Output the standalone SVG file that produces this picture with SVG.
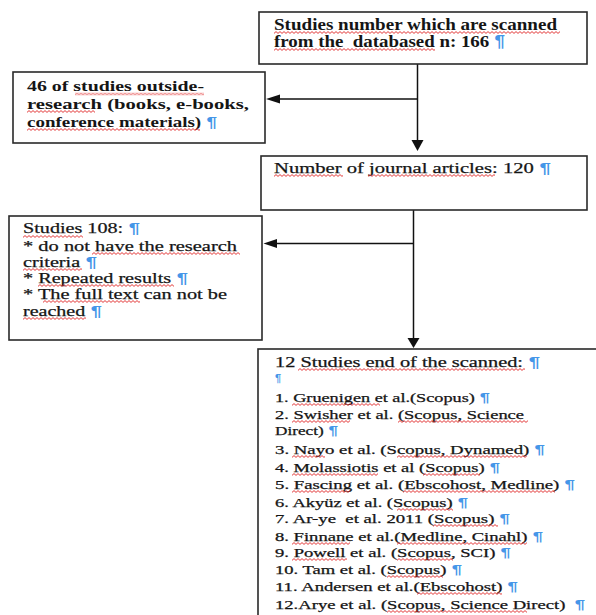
<svg xmlns="http://www.w3.org/2000/svg" width="596" height="615" viewBox="0 0 596 615">
<style>
.box{fill:#fff;stroke:#2a2a2a;stroke-width:1.6}
.ln{stroke:#111;stroke-width:1.5;fill:none}
.hd{fill:#111}
.t{fill:#151515;stroke:#151515;stroke-width:0.25}
.b{font-weight:bold;stroke-width:0}
.p{fill:#4596e8;stroke:none;font-family:'Liberation Sans',Arial,sans-serif;font-weight:bold}
.sq{fill:url(#sq)}
</style>
<defs>
<pattern id="sq" width="4" height="3" patternUnits="userSpaceOnUse"><path d="M0,2.4 L2,0.6 L4,2.4" fill="none" stroke="#e02525" stroke-width="0.9"/></pattern>
</defs>
<rect width="596" height="615" fill="#fff"/>

<g id="connectors">
<line class="ln" x1="417.5" y1="64" x2="417.5" y2="141"/>
<polygon class="hd" points="411.5,140 423.5,140 417.5,151"/>
<line class="ln" x1="417.5" y1="99" x2="278" y2="99"/>
<polygon class="hd" points="266,99 280,94.5 280,103.5"/>
<line class="ln" x1="413.5" y1="210" x2="413.5" y2="339"/>
<polygon class="hd" points="407.5,338 419.5,338 413.5,348"/>
<line class="ln" x1="413.5" y1="243.5" x2="275" y2="243.5"/>
<polygon class="hd" points="263.5,243.5 277,239 277,248"/>
</g>

<g font-family="Liberation Serif, Times New Roman, serif">
<g id="node-scanned">
<rect class="box" x="259" y="12" width="328" height="52"/>
<text class="t b" font-size="16" x="274" y="30" textLength="283" lengthAdjust="spacingAndGlyphs">Studies number which are scanned</text>
<text class="t b" font-size="16" x="274" y="47" textLength="231" lengthAdjust="spacingAndGlyphs">from the &#160;databased n: 166<tspan class="p"> ¶</tspan></text>
</g>

<g id="node-outside">
<rect class="box" x="13" y="72" width="252" height="71"/>
<text class="t b" font-size="15" x="27" y="91" textLength="177" lengthAdjust="spacingAndGlyphs">46 of studies outside-</text>
<text class="t b" font-size="15" x="27" y="109" textLength="222" lengthAdjust="spacingAndGlyphs">research (books, e-books,</text>
<text class="t b" font-size="15" x="27" y="127" textLength="190" lengthAdjust="spacingAndGlyphs">conference materials)<tspan class="p"> ¶</tspan></text>
</g>

<g id="node-journal">
<rect class="box" x="261" y="156" width="326" height="54"/>
<text class="t" font-size="15.5" x="274" y="173" textLength="277" lengthAdjust="spacingAndGlyphs">Number of journal articles: 120<tspan class="p"> ¶</tspan></text>
</g>

<g id="node-excluded">
<rect class="box" x="9" y="216" width="253" height="124"/>
<text class="t" font-size="15" x="23" y="233" textLength="117" lengthAdjust="spacingAndGlyphs">Studies 108:<tspan class="p"> ¶</tspan></text>
<text class="t" font-size="15" x="23" y="251" textLength="214" lengthAdjust="spacingAndGlyphs">* do not have the research</text>
<text class="t" font-size="15" x="23" y="267" textLength="74" lengthAdjust="spacingAndGlyphs">criteria<tspan class="p"> ¶</tspan></text>
<text class="t" font-size="15" x="23" y="283" textLength="165" lengthAdjust="spacingAndGlyphs">* Repeated results<tspan class="p"> ¶</tspan></text>
<text class="t" font-size="15" x="23" y="299" textLength="204" lengthAdjust="spacingAndGlyphs">* The full text can not be</text>
<text class="t" font-size="15" x="23" y="316" textLength="79" lengthAdjust="spacingAndGlyphs">reached<tspan class="p"> ¶</tspan></text>
</g>

<g id="node-included">
<rect class="box" x="258" y="349" width="345" height="275"/>
<text class="t" font-size="14.5" x="275" y="367" textLength="265" lengthAdjust="spacingAndGlyphs">12 Studies end of the scanned:<tspan class="p"> ¶</tspan></text>
<text class="p" font-size="11" x="275" y="382">¶</text>
<text class="t" font-size="12.5" x="275" y="402" textLength="215" lengthAdjust="spacingAndGlyphs">1. Gruenigen et al.(Scopus)<tspan class="p"> ¶</tspan></text>
<text class="t" font-size="12.5" x="275" y="419" textLength="249" lengthAdjust="spacingAndGlyphs">2. Swisher et al. (Scopus, Science</text>
<text class="t" font-size="12.5" x="275" y="435" textLength="63" lengthAdjust="spacingAndGlyphs">Direct)<tspan class="p"> ¶</tspan></text>
<text class="t" font-size="12.5" x="275" y="454" textLength="270" lengthAdjust="spacingAndGlyphs">3. Nayo et al. (Scopus, Dynamed)<tspan class="p"> ¶</tspan></text>
<text class="t" font-size="12.5" x="275" y="472" textLength="225" lengthAdjust="spacingAndGlyphs">4. Molassiotis et al (Scopus)<tspan class="p"> ¶</tspan></text>
<text class="t" font-size="12.5" x="275" y="489" textLength="300" lengthAdjust="spacingAndGlyphs">5. Fascing et al. (Ebscohost, Medline)<tspan class="p"> ¶</tspan></text>
<text class="t" font-size="12.5" x="275" y="507" textLength="193" lengthAdjust="spacingAndGlyphs">6. Akyüz et al. (Scopus)<tspan class="p"> ¶</tspan></text>
<text class="t" font-size="12.5" x="275" y="523" textLength="235" lengthAdjust="spacingAndGlyphs">7. Ar-ye &#160;et al. 2011 (Scopus)<tspan class="p"> ¶</tspan></text>
<text class="t" font-size="12.5" x="275" y="541" textLength="268" lengthAdjust="spacingAndGlyphs">8. Finnane et al.(Medline, Cinahl)<tspan class="p"> ¶</tspan></text>
<text class="t" font-size="12.5" x="275" y="557" textLength="236" lengthAdjust="spacingAndGlyphs">9. Powell et al. (Scopus, SCI)<tspan class="p"> ¶</tspan></text>
<text class="t" font-size="12.5" x="275" y="574" textLength="187" lengthAdjust="spacingAndGlyphs">10. Tam et al. (Scopus)<tspan class="p"> ¶</tspan></text>
<text class="t" font-size="12.5" x="275" y="591" textLength="243" lengthAdjust="spacingAndGlyphs">11. Andersen et al.(Ebscohost)<tspan class="p"> ¶</tspan></text>
<text class="t" font-size="12.5" x="275" y="609" textLength="310" lengthAdjust="spacingAndGlyphs">12.Arye et al. (Scopus, Science Direct) &#160;<tspan class="p">¶</tspan></text>
</g>
</g>

<g id="spellcheck">
<rect class="sq" transform="translate(274,31)" width="286" height="3"/>
<rect class="sq" transform="translate(274,48)" width="161" height="3"/>
<rect class="sq" transform="translate(75,92.5)" width="129" height="3"/>
<rect class="sq" transform="translate(27,110)" width="68" height="3"/>
<rect class="sq" transform="translate(27,128)" width="173" height="3"/>
<rect class="sq" transform="translate(274,174)" width="69" height="3"/>
<rect class="sq" transform="translate(368,174)" width="127" height="3"/>
<rect class="sq" transform="translate(23,235)" width="60" height="3"/>
<rect class="sq" transform="translate(92,252)" width="148" height="3"/>
<rect class="sq" transform="translate(23,268)" width="59" height="3"/>
<rect class="sq" transform="translate(38,284)" width="136" height="3"/>
<rect class="sq" transform="translate(43,300)" width="97" height="3"/>
<rect class="sq" transform="translate(23,317)" width="63" height="3"/>
<rect class="sq" transform="translate(298,368)" width="227" height="3"/>
<rect class="sq" transform="translate(292,403)" width="88" height="3"/>
<rect class="sq" transform="translate(292,420)" width="58" height="3"/>
<rect class="sq" transform="translate(398,420)" width="130" height="3"/>
<rect class="sq" transform="translate(292,455)" width="33" height="3"/>
<rect class="sq" transform="translate(397,455)" width="130" height="3"/>
<rect class="sq" transform="translate(292,473)" width="86" height="3"/>
<rect class="sq" transform="translate(423,473)" width="57" height="3"/>
<rect class="sq" transform="translate(292,490)" width="58" height="3"/>
<rect class="sq" transform="translate(403,490)" width="152" height="3"/>
<rect class="sq" transform="translate(397,508)" width="56" height="3"/>
<rect class="sq" transform="translate(433,524)" width="65" height="3"/>
<rect class="sq" transform="translate(292,542)" width="58" height="3"/>
<rect class="sq" transform="translate(397,542)" width="130" height="3"/>
<rect class="sq" transform="translate(292,558)" width="55" height="3"/>
<rect class="sq" transform="translate(397,558)" width="56" height="3"/>
<rect class="sq" transform="translate(387,575)" width="56" height="3"/>
<rect class="sq" transform="translate(417,592)" width="85" height="3"/>
<rect class="sq" transform="translate(387,610)" width="140" height="3"/>
</g>
</svg>
